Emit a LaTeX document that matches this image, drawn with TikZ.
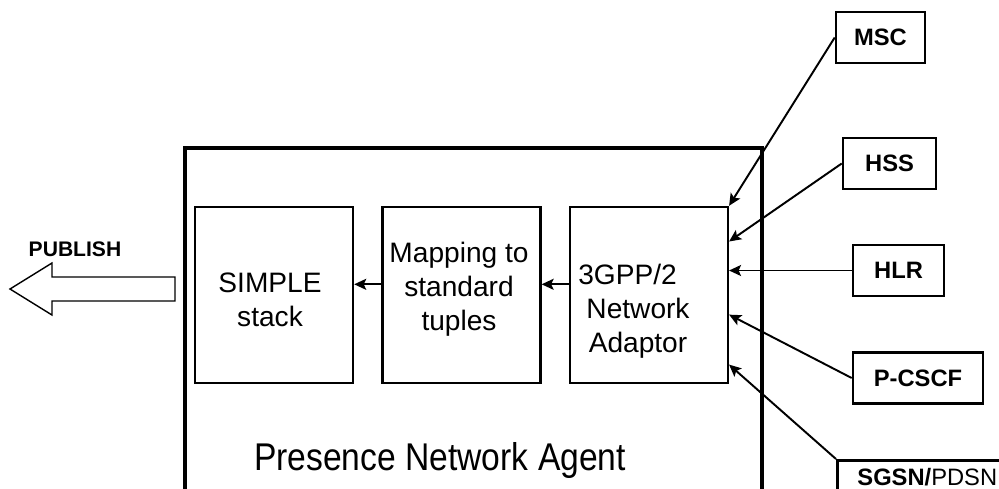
\documentclass[tikz,border=0pt]{standalone}
\usepackage{graphicx}
\usepackage{fontspec}
\setmainfont{Liberation Sans}
\usetikzlibrary{arrows.meta,positioning,calc}

\begin{document}
\begin{tikzpicture}
      [x = 0.02cm, y = -0.02cm,
      flow/.style = {
         -{Stealth[length = 2.4mm, width = 2.2mm, inset = 0.5mm]},
         line width = 1.1pt
      },
      block/.style = {
         draw,
         line width = 1.4pt,
         minimum width = 3.16cm,
         minimum height = 3.52cm,
         inner sep = 0pt
      },
      blocktext/.style = {
         align = center,
         inner sep = 0pt,
         font = \fontsize{16}{19.3}\selectfont
      },
      source/.style = {
         draw,
         line width = 1.5pt,
         minimum height = 1.02cm,
         inner sep = 0pt,
         font = \fontsize{13.5}{16}\selectfont\bfseries
      }]

      \useasboundingbox (0, 0) rectangle (999, 488);
      \clip (0, 0) rectangle (999, 488);

      \draw[line width = 1.8pt] (185, 500) -- (185, 148) -- (762, 148) -- (762, 500);

      \node[block] (simple) at (274, 295) {};
      \node[block, right = 0.54cm of simple] (mapping) {};
      \node[block, right = 0.54cm of mapping] (adaptor) {};

      \node[blocktext] (simpletxt) at (270, 300) {SIMPLE\\stack};
      \node[blocktext] (mappingtxt) at (459, 289) {Mapping to\\standard\\tuples};
      \node[blocktext] (adaptortxt) at (638, 311) {3GPP/2\rule{0.42cm}{0pt}\\Network\\Adaptor};

      \node[anchor = base, font = \fontsize{22}{26}\selectfont] (title) at (440, 470)
         {\scalebox{0.87}[1]{Presence Network Agent}};

      \node[source, minimum width = 1.78cm] (msc) at (880.5, 37.5) {MSC};
      \node[source, minimum width = 1.86cm] (hss) at (889.5, 163.5) {HSS};
      \node[source, minimum width = 1.82cm] (hlr) at (898.5, 270.5) {HLR};
      \node[source, minimum width = 2.6cm] (pcscf) at (918, 378) {P-CSCF};
      \node[source, anchor = north west, minimum width = 3.6cm, minimum height = 0.66cm] (sgsn)
         at (836, 459) {SGSN/{\mdseries PDSN}};

      \draw[flow] (msc.west) -- (adaptor.north east);
      \draw[flow] (hss.west) -- ($(adaptor.north east)!0.2!(adaptor.south east)$);
      \draw[flow] (hlr.west) -- (hlr.west -| adaptor.east);
      \draw[flow] (pcscf.west) -- ($(adaptor.north east)!0.61!(adaptor.south east)$);
      \draw[flow] (sgsn.north west) -- ($(adaptor.north east)!0.89!(adaptor.south east)$);

      \coordinate (a1) at ($(adaptor.north west)!0.44!(adaptor.south west)$);
      \draw[flow] (a1) -- (a1 -| mapping.east);
      \coordinate (m1) at ($(mapping.north west)!0.44!(mapping.south west)$);
      \draw[flow] (m1) -- (m1 -| simple.east);

      \draw[line width = 0.8pt] (175, 277) -- (52, 277) -- (52, 263) -- (10, 289)
         -- (52, 315) -- (52, 301) -- (175, 301) -- cycle;
      \node[anchor = base, font = \fontsize{12}{14}\selectfont\bfseries] (publish) at (75, 256) {PUBLISH};

   \end{tikzpicture}
\end{document}
